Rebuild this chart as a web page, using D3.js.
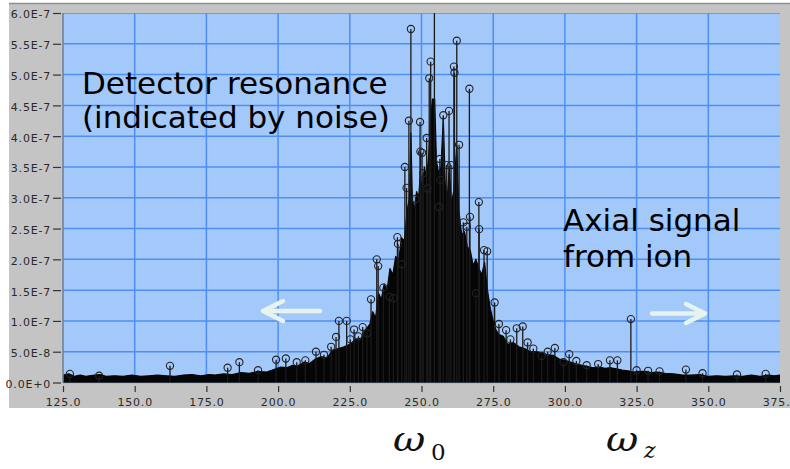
<!DOCTYPE html>
<html><head><meta charset="utf-8">
<script src="https://cdn.jsdelivr.net/npm/d3@7"></script>
<style>body{margin:0;background:#fff}svg{display:block}</style>
</head><body>
<svg id="c" width="790" height="469"></svg>
<script>
// ---------- DATA ----------
const xTickValues = [125,150,175,200,225,250,275,300,325,350,375];
const xTickLabels = ["125.0","150.0","175.0","200.0","225.0","250.0","275.0","300.0","325.0","350.0","375.0"];
const yTickValues = [0,0.5e-7,1e-7,1.5e-7,2e-7,2.5e-7,3e-7,3.5e-7,4e-7,4.5e-7,5e-7,5.5e-7,6e-7];
const yTickLabels = ["0.0E+0","5.0E-8","1.0E-7","1.5E-7","2.0E-7","2.5E-7","3.0E-7","3.5E-7","4.0E-7","4.5E-7","5.0E-7","5.5E-7","6.0E-7"];

// dense noise floor (upper envelope of the unresolved points), amplitude in units of 1e-7
const noiseFreq = [125,127,129,131,133,136,138,140,143,146,149,152,155,158,161,164,167,170,173,176,178,181,184,187,190,193,196,199,201,203,205,207,209,211,213,215,217,219,221,223,225,227,229,230.5,232,233,234,235,236,237,238,239,240,241,242,243,244,245,245.8,246.3,246.8,247.5,248.3,249,249.6,250.2,251,251.8,252.5,253.2,253.8,254.6,255.2,256,256.8,257.6,258.3,259,259.7,260.4,261.2,262.3,263,264,265,266,267,268,269,270,271,272,273,274,275,276,277,278.5,280,282,284,286,288,290,292,294,296,298,300,302,304,306,308,310,312,314,316,318,320,322,324,326,328,330,332,335,338,341,344,347,350,353,356,359,362,365,368,371,373,375];
const noiseAmp  = [0.12,0.14,0.10,0.12,0.10,0.12,0.13,0.10,0.11,0.10,0.12,0.10,0.11,0.12,0.11,0.10,0.12,0.13,0.11,0.13,0.12,0.14,0.13,0.16,0.15,0.18,0.17,0.22,0.25,0.24,0.28,0.27,0.33,0.31,0.38,0.42,0.40,0.52,0.55,0.58,0.62,0.70,0.72,0.85,0.95,1.15,1.05,1.45,1.35,1.60,1.50,1.85,1.75,2.05,1.95,2.35,2.30,2.80,3.00,4.05,3.00,2.80,3.10,3.00,3.40,3.10,3.50,3.30,3.70,4.30,4.60,4.60,3.60,3.40,3.50,4.30,3.20,3.00,3.50,2.90,3.10,3.85,2.80,2.40,2.45,2.20,2.15,1.90,2.00,1.85,1.75,1.95,1.50,1.20,1.00,0.85,0.78,0.75,0.62,0.65,0.58,0.55,0.50,0.50,0.48,0.45,0.44,0.38,0.36,0.33,0.30,0.28,0.26,0.24,0.25,0.23,0.24,0.22,0.20,0.19,0.17,0.18,0.18,0.16,0.17,0.15,0.14,0.12,0.12,0.13,0.10,0.11,0.10,0.11,0.10,0.12,0.10,0.12,0.11,0.12];

// resolved peaks drawn as stems with circle markers, amplitude in units of 1e-7
const peakFreq = [127.4,137.6,162.3,182.4,186.5,193,199.3,202.7,206.5,209.5,213.2,216,218.5,220.2,221.2,223.9,225.2,226.5,228,229.5,231,232.4,234.4,234.9,236.7,238.8,240.2,241.6,241.8,243.1,244.2,244.8,245.6,246.3,247.9,249.5,249.6,250.2,250.6,251.8,252.1,252.7,253.2,254.5,256.1,256.4,256.6,257.6,258.8,259.6,260.3,261.3,261.5,262.3,263.1,264.6,265.8,266.7,266.9,269,270.0,270.1,271.8,272.9,275.5,277,279.5,281,283.2,285.3,287.0,289,291.9,294,296.5,299.5,301.5,304,307.6,311.6,315.7,318.3,323.0,325,329,333,342.2,348,360,370];
const peakAmp  = [0.14,0.11,0.27,0.24,0.33,0.20,0.37,0.39,0.33,0.36,0.50,0.45,0.58,0.74,1.00,1.00,0.70,0.86,0.75,0.90,0.80,1.35,2.00,1.89,1.54,1.39,1.37,2.36,2.25,1.92,3.50,3.16,4.25,5.74,2.98,4.23,3.75,3.73,3.40,3.97,3.15,4.94,5.21,6.80,2.85,3.63,3.29,4.34,3.53,4.41,3.53,5.13,5.03,5.55,3.86,2.60,2.53,4.77,2.69,1.45,2.93,2.49,2.15,2.13,1.30,0.95,0.85,0.70,0.88,0.91,0.65,0.55,0.43,0.50,0.56,0.33,0.46,0.35,0.28,0.30,0.36,0.36,1.03,0.20,0.19,0.18,0.21,0.15,0.13,0.14];
const unit = 1e-7;

// ---------- DRAW ----------
const svg = d3.select("#c");
const W = 790, H = 469;
const pL = 63, pR = 780, pT = 13, pB = 382.5;
const x = d3.scaleLinear().domain([125,375]).range([pL,pR]);
const y = d3.scaleLinear().domain([0,6e-7]).range([pB,pT]);

svg.append("rect").attr("width",W).attr("height",H).attr("fill","#fff");
// grey panel
svg.append("rect").attr("x",9).attr("y",3).attr("width",781).attr("height",405).attr("fill","#c4c4c4");
svg.append("line").attr("x1",9).attr("x2",790).attr("y1",3.5).attr("y2",3.5).attr("stroke","#8e8e8e").attr("stroke-width",1.5);

// plot area
svg.append("defs").append("clipPath").attr("id","clip")
  .append("rect").attr("x",pL).attr("y",pT).attr("width",pR-pL).attr("height",pB-pT+0.5);
svg.append("rect").attr("x",pL).attr("y",pT).attr("width",pR-pL).attr("height",pB-pT)
  .attr("fill","#a3c8fa");

const g = svg.append("g").attr("clip-path","url(#clip)");
// grid
g.selectAll(".hg").data(yTickValues.slice(1)).join("line")
  .attr("x1",pL).attr("x2",pR).attr("y1",d=>y(d)).attr("y2",d=>y(d))
  .attr("stroke","#4f8ff2").attr("stroke-width",1.5);
g.selectAll(".vg").data(xTickValues.slice(1,-1)).join("line")
  .attr("x1",d=>x(d)).attr("x2",d=>x(d)).attr("y1",pT).attr("y2",pB)
  .attr("stroke","#4f8ff2").attr("stroke-width",1.5);

// noise floor
const noise = noiseFreq.map((f,i)=>({f, v:noiseAmp[i]*unit}));
g.append("path").datum(noise)
  .attr("d", d3.area().x(d=>x(d.f)).y0(y(0)).y1(d=>y(d.v)))
  .attr("fill","#050505").attr("stroke","#050505").attr("stroke-width",1.2).attr("stroke-linejoin","round");

// stems
const peaks = peakFreq.map((f,i)=>({f, v:peakAmp[i]*unit}));
g.selectAll(".stem").data(peaks).join("line")
  .attr("x1",d=>x(d.f)).attr("x2",d=>x(d.f)).attr("y1",y(0)).attr("y2",d=>y(d.v))
  .attr("stroke","#1a1a1a").attr("stroke-width",1.3);
g.selectAll(".mk").data(peaks).join("circle")
  .attr("cx",d=>x(d.f)).attr("cy",d=>y(d.v)).attr("r",3.6)
  .attr("fill","none").attr("stroke","#222").attr("stroke-width",1.1);

// left border of plot
svg.append("line").attr("x1",pL).attr("x2",pL).attr("y1",pT).attr("y2",pB)
  .attr("stroke","#6a7f96").attr("stroke-width",1.5);
svg.append("line").attr("x1",pL).attr("x2",pR).attr("y1",pB+0.8).attr("y2",pB+0.8)
  .attr("stroke","#9cc0ee").attr("stroke-width",1.2);

// axes
const yAxis = d3.axisLeft(y).tickValues(yTickValues).tickFormat((d,i)=>yTickLabels[i]).tickSize(8).tickPadding(2);
const ya = svg.append("g").attr("transform","translate(61,0)").call(yAxis);
const xAxis = d3.axisBottom(x).tickValues(xTickValues).tickFormat((d,i)=>xTickLabels[i]).tickSize(6).tickPadding(6);
const xa = svg.append("g").attr("transform","translate(0,386)").call(xAxis);
[ya,xa].forEach(a=>{
  a.select(".domain").remove();
  a.selectAll(".tick line").attr("stroke","#333").attr("stroke-width",1.2);
  a.selectAll(".tick text").attr("fill","#2a2a2a")
   .style("font-family","'DejaVu Sans'").style("font-size","11px").style("letter-spacing","0.8px");
});
ya.selectAll(".tick text").attr("dy","0.45em");

// annotations
const ann = svg.append("g").style("font-family","'DejaVu Sans'").style("font-size","31px").attr("fill","#000");
ann.append("text").attr("x",82).attr("y",94).text("Detector resonance");
ann.append("text").attr("x",82).attr("y",128).text("(indicated by noise)");
ann.append("text").attr("x",563).attr("y",231).text("Axial signal");
ann.append("text").attr("x",563).attr("y",267).text("from ion");

const arrowColor = "#e6f3ef";
const arr = svg.append("g").attr("stroke",arrowColor).attr("stroke-width",4.5)
  .attr("stroke-linecap","round").attr("stroke-linejoin","round").attr("fill","none");
arr.append("path").attr("d","M320,311 L263,311 M283,301 L263,311 L283,321");
arr.append("path").attr("d","M652,313.5 L705,313.5 M686,304 L705,313.5 L686,323");

// omega labels
function omega(x0, sub, subItalic, subX, subY, subSize){
  const t = svg.append("g");
  t.append("text").attr("transform",`translate(${x0},451) scale(1.2,1)`)
    .style("font-family","'DejaVu Serif'").style("font-style","italic").style("font-size","33px")
    .attr("fill","#111").text("ω");
  t.append("text").attr("x",subX).attr("y",subY)
    .style("font-family","'DejaVu Serif'").style("font-style",subItalic?"italic":"normal")
    .style("font-size",subSize+"px").attr("fill","#111").text(sub);
}
omega(393,"0",false,431,459.5,23);
omega(606,"z",true,644,458,22);
</script>
</body></html>
